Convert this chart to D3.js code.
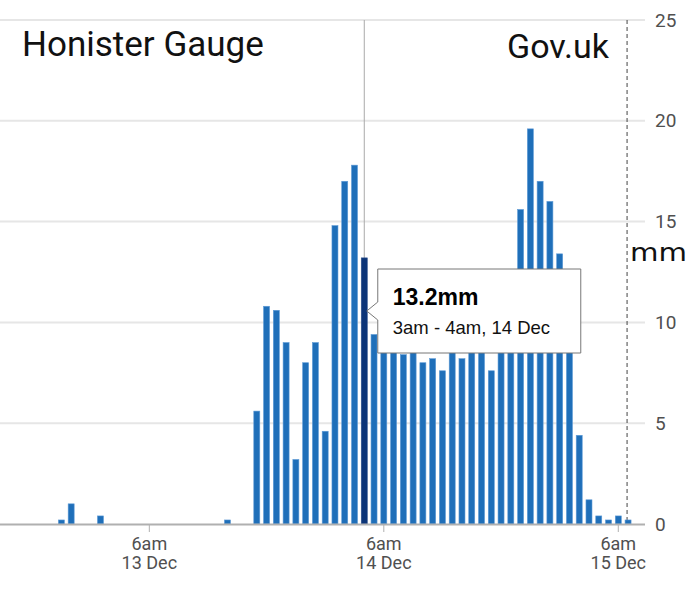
<!DOCTYPE html>
<html>
<head>
<meta charset="utf-8">
<script src="https://cdn.jsdelivr.net/npm/d3@7"></script>
<style>
  body { margin: 0; background: #fff; }
  svg { display: block; }
</style>
</head>
<body>
<div class="chart"></div>
<script>
// Data: hourly rainfall (mm), each bar is the hour ending at that time
var firstHourEnd = new Date(2023, 11, 12, 16, 0);
var rainfall = [
  // 12 Dec 16:00 - 23:00
  0, 0, 0, 0, 0, 0.2, 1.0, 0,
  // 13 Dec 00:00 - 23:00
  0, 0.4, 0, 0, 0, 0, 0, 0, 0, 0, 0, 0, 0, 0, 0.2, 0, 0, 5.6, 10.8, 10.6, 9.0, 3.2, 8.0, 9.0,
  // 14 Dec 00:00 - 23:00
  4.6, 14.8, 17.0, 17.8, 13.2, 9.4, 9.0, 8.8, 8.4, 8.7, 8.0, 8.2, 7.6, 9.0, 8.2, 9.5, 10.2, 7.6, 11.0, 12.0, 15.6, 19.6, 17.0, 16.0,
  // 15 Dec 00:00 - 07:00
  13.4, 10.5, 4.4, 1.2, 0.4, 0.2, 0.4, 0.2
];
var hourEnds = rainfall.map(function(d, i) { return d3.timeHour.offset(firstHourEnd, i); });

var xTickDates = [new Date(2023, 11, 13, 6), new Date(2023, 11, 14, 6), new Date(2023, 11, 15, 6)];
var xTickLabels = [["6am", "13 Dec"], ["6am", "14 Dec"], ["6am", "15 Dec"]];
var yTicks = [0, 5, 10, 15, 20, 25];

var nowTime = new Date(2023, 11, 15, 7, 0);
var hoverIndex = 36; // 3am - 4am, 14 Dec
var tipValue = "13.2mm";
var tipRange = "3am - 4am, 14 Dec";

// Configuration
var width = 691;
var height = 593;
var plotRight = 645;
var plotTop = 20;
var base = 524;

var svg = d3.select(".chart").append("svg")
    .attr("width", width)
    .attr("height", height);

var x = d3.scaleTime()
    .domain([new Date(2023, 11, 12, 14, 43), new Date(2023, 11, 15, 8, 44)])
    .range([0, plotRight]);

var y = d3.scaleLinear()
    .domain([0, 25])
    .range([base, plotTop]);

// gridlines
svg.append("g").selectAll("line")
    .data(yTicks.filter(function(d) { return d > 0; }))
    .enter().append("line")
    .attr("x1", 0)
    .attr("x2", plotRight)
    .attr("y1", function(d) { return y(d); })
    .attr("y2", function(d) { return y(d); })
    .attr("stroke", "#e6e6e6")
    .attr("stroke-width", 2);

// y labels on the right
svg.append("g").selectAll("text")
    .data(yTicks)
    .enter().append("text")
    .attr("x", 655)
    .attr("y", function(d) { return y(d); })
    .attr("dy", "0.35em")
    .style("font-family", "Roboto, sans-serif")
    .style("font-size", "19px")
    .style("fill", "#505050")
    .text(function(d) { return d; });

svg.append("text")
    .attr("x", 630)
    .attr("y", 261)
    .attr("textLength", 57)
    .attr("lengthAdjust", "spacingAndGlyphs")
    .style("font-family", "'DejaVu Sans', sans-serif")
    .style("font-size", "24px")
    .style("fill", "#111")
    .text("mm");

// titles
svg.append("text")
    .attr("x", 22)
    .attr("y", 56)
    .style("font-family", "Roboto, sans-serif")
    .style("font-size", "35px")
    .style("fill", "#111")
    .text("Honister Gauge");

svg.append("text")
    .attr("x", 609)
    .attr("y", 58)
    .attr("text-anchor", "end")
    .style("font-family", "Roboto, sans-serif")
    .style("font-size", "34px")
    .style("fill", "#111")
    .text("Gov.uk");

// crosshair on hovered bar
svg.append("line")
    .attr("x1", x(hourEnds[hoverIndex]))
    .attr("x2", x(hourEnds[hoverIndex]))
    .attr("y1", y(25))
    .attr("y2", base)
    .attr("stroke", "#aaa")
    .attr("stroke-width", 1);

// "now" line
svg.append("line")
    .attr("x1", x(nowTime) - 1)
    .attr("x2", x(nowTime) - 1)
    .attr("y1", y(25))
    .attr("y2", base)
    .attr("stroke", "#444")
    .attr("stroke-width", 1)
    .attr("stroke-dasharray", "4,3");

// bars
var barW = 6;
svg.append("g").selectAll("rect")
    .data(rainfall)
    .enter().append("rect")
    .attr("x", function(d, i) { return x(hourEnds[i]) - barW / 2; })
    .attr("y", function(d) { return y(d); })
    .attr("width", barW)
    .attr("height", function(d) { return base - y(d); })
    .attr("fill", function(d, i) { return i == hoverIndex ? "#0b3478" : "#1f6fb9"; })
    .attr("stroke", function(d, i) { return i == hoverIndex ? "#2c4f8c" : "#5d9ad6"; })
    .attr("stroke-width", function(d) { return d > 0 ? 0.6 : 0; });

// x axis baseline + ticks
svg.append("line")
    .attr("x1", 0)
    .attr("x2", plotRight)
    .attr("y1", base + 0.5)
    .attr("y2", base + 0.5)
    .attr("stroke", "#b0b0b0")
    .attr("stroke-width", 2);

var xt = svg.append("g").selectAll("g")
    .data(xTickDates)
    .enter().append("g")
    .attr("transform", function(d) { return "translate(" + x(d) + ",0)"; });
xt.append("line")
    .attr("y1", base + 1)
    .attr("y2", base + 8)
    .attr("stroke", "#b0b0b0")
    .attr("stroke-width", 1);
xt.append("text")
    .attr("y", 550)
    .attr("text-anchor", "middle")
    .style("font-family", "Roboto, sans-serif")
    .style("font-size", "18px")
    .style("fill", "#505050")
    .text(function(d, i) { return xTickLabels[i][0]; });
xt.append("text")
    .attr("y", 569)
    .attr("text-anchor", "middle")
    .style("font-family", "Roboto, sans-serif")
    .style("font-size", "18px")
    .style("fill", "#505050")
    .text(function(d, i) { return xTickLabels[i][1]; });

// tooltip
var tipX = x(hourEnds[hoverIndex]) + 2.5;
var tipY = 311;
var boxW = 203, boxH = 84, arrow = 11;
var tip = svg.append("g")
    .attr("transform", "translate(" + tipX + "," + tipY + ")");
tip.append("path")
    .attr("d", "M0,0 L" + arrow + ",-9 L" + arrow + "," + (-boxH / 2) +
      " L" + (arrow + boxW) + "," + (-boxH / 2) +
      " L" + (arrow + boxW) + "," + (boxH / 2) +
      " L" + arrow + "," + (boxH / 2) +
      " L" + arrow + ",9 Z")
    .attr("fill", "#fff")
    .attr("stroke", "#777")
    .attr("stroke-width", 1);
tip.append("text")
    .attr("x", arrow + 15)
    .attr("y", -6)
    .style("font-family", "'Liberation Sans', Arial, sans-serif")
    .style("font-weight", "bold")
    .style("font-size", "23px")
    .style("fill", "#000")
    .text(tipValue);
tip.append("text")
    .attr("x", arrow + 15)
    .attr("y", 23)
    .style("font-family", "'Liberation Sans', Arial, sans-serif")
    .style("font-size", "18.5px")
    .style("fill", "#111")
    .text(tipRange);
</script>
</body>
</html>
